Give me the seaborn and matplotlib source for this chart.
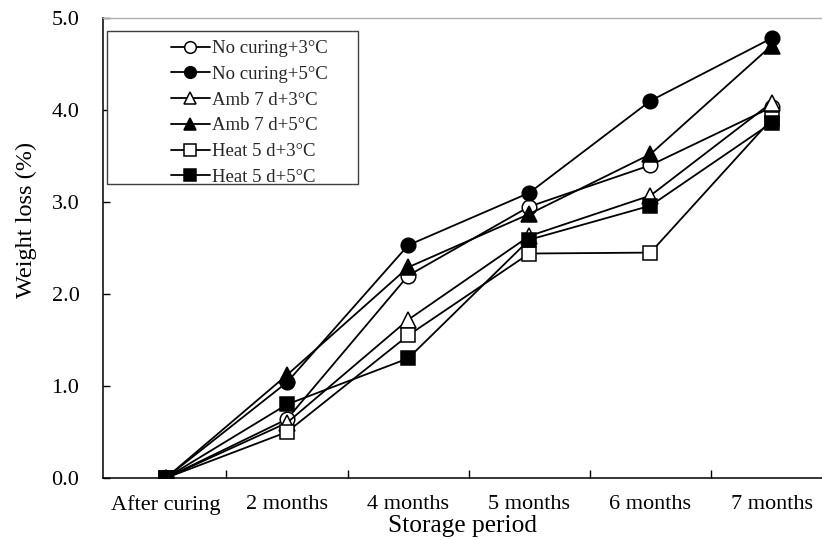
import matplotlib
matplotlib.use("Agg")
import matplotlib.pyplot as plt
from matplotlib.patches import Rectangle
import seaborn as sns
import pandas as pd

# Storage periods and weight-loss readings (%) for each treatment
periods = ["After curing", "2 months", "4 months", "5 months", "6 months", "7 months"]
no_curing_3 = [0.0, 0.64, 2.20, 2.95, 3.40, 4.03]
no_curing_5 = [0.0, 1.04, 2.53, 3.10, 4.10, 4.78]
amb7_3 = [0.0, 0.60, 1.72, 2.63, 3.07, 4.08]
amb7_5 = [0.0, 1.12, 2.29, 2.87, 3.52, 4.70]
heat5_3 = [0.0, 0.50, 1.55, 2.44, 2.45, 3.90]
heat5_5 = [0.0, 0.80, 1.30, 2.59, 2.96, 3.86]

series_names = ["No curing+3°C", "No curing+5°C", "Amb 7 d+3°C",
                "Amb 7 d+5°C", "Heat 5 d+3°C", "Heat 5 d+5°C"]
series_values = [no_curing_3, no_curing_5, amb7_3, amb7_5, heat5_3, heat5_5]
series_markers = ["o", "o", "^", "^", "s", "s"]
series_faces = ["white", "black", "white", "black", "white", "black"]

rows = []
for name, vals in zip(series_names, series_values):
    for i, (p, v) in enumerate(zip(periods, vals)):
        rows.append({"period": p, "pos": i, "loss": v, "treatment": name})
df = pd.DataFrame(rows)

sns.set_theme(style="white")
plt.rcParams["font.family"] = ["Liberation Serif", "DejaVu Serif"]

fig = plt.figure(figsize=(8.22, 5.40), dpi=100)
ax = fig.add_axes([103 / 822, (540 - 478) / 540, (822 - 103) / 822, (478 - 18) / 540])

handles = []
for name, mk, fc in zip(series_names, series_markers, series_faces):
    sub = df[df["treatment"] == name]
    sns.lineplot(data=sub, x="pos", y="loss", ax=ax, color="black", lw=1.3,
                 marker=mk, markersize=10.5 if mk != "^" else 11,
                 markerfacecolor=fc, markeredgecolor="black", markeredgewidth=1.1,
                 sort=False, legend=False, zorder=3)
    handles.append(ax.lines[-1])

ax.set_xlim(-0.519, 5.416)
ax.set_ylim(0, 5.0)
ax.set_xticks(range(len(periods)))
ax.set_xticklabels(periods)
ax.set_xticks([i + 0.5 for i in range(len(periods) - 1)], minor=True)
ax.set_yticks([0, 1, 2, 3, 4, 5])
ax.set_yticklabels([f"{v:.1f}" for v in [0, 1, 2, 3, 4, 5]])

ax.tick_params(axis="x", which="major", length=0, pad=12, labelsize=16, colors="black")
ax.tick_params(axis="x", which="minor", direction="in", length=6, width=1, color="black", bottom=True)
ax.tick_params(axis="y", which="major", direction="in", length=5, width=1, pad=17,
               labelsize=16, colors="black", left=True)

ax.set_xlabel("Storage period", fontsize=18.3, labelpad=0.5, color="black")
ax.set_ylabel("Weight loss (%)", fontsize=17.5, color="black")
ax.yaxis.set_label_coords(-0.092, 0.561)

for side in ["left", "bottom"]:
    ax.spines[side].set_color("black")
    ax.spines[side].set_linewidth(1.1)
ax.spines["top"].set_color("#b0b0b0")
ax.spines["top"].set_linewidth(1.0)
ax.spines["right"].set_visible(False)

# Legend box drawn as a separate frame with the entries placed inside it
box = Rectangle((107 / 822, (540 - 184) / 540), (358 - 107) / 822, (184 - 31) / 540,
                transform=fig.transFigure, facecolor="white", edgecolor="#404040",
                linewidth=1.0, zorder=5)
fig.patches.append(box)
leg = fig.legend(handles, series_names, loc="upper left",
                 bbox_to_anchor=(158 / 822, (540 - 27) / 540), frameon=False,
                 fontsize=13.5, handlelength=2.05, handletextpad=0.12,
                 labelspacing=0.46, borderpad=0.2, markerscale=0.8)
leg.set_zorder(6)

fig.savefig("out.png", dpi=100)
